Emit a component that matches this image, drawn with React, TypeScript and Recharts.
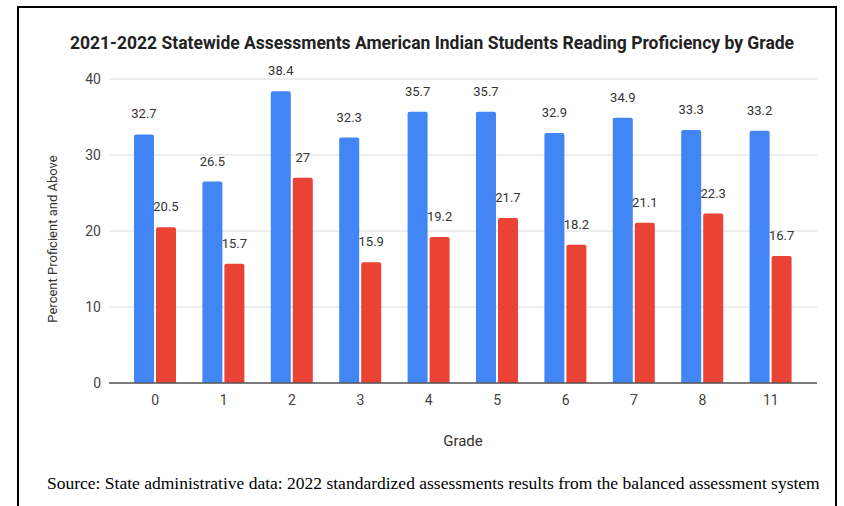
import { BarChart, Bar, XAxis, YAxis, CartesianGrid, LabelList, Label } from 'recharts';

const grades = ['0', '1', '2', '3', '4', '5', '6', '7', '8', '11'];
const blueValues = [32.7, 26.5, 38.4, 32.3, 35.7, 35.7, 32.9, 34.9, 33.3, 33.2];
const redValues = [20.5, 15.7, 27, 15.9, 19.2, 21.7, 18.2, 21.1, 22.3, 16.7];
const yTicks = [0, 10, 20, 30, 40];

const TITLE = '2021-2022 Statewide Assessments American Indian Students Reading Proficiency by Grade';
const SOURCE =
  'Source: State administrative data: 2022 standardized assessments results from the balanced assessment system';

const FONT = 'Roboto, Arial, sans-serif';

export default function App() {
  const data = grades.map((g, i) => ({
    grade: g,
    blue: blueValues[i],
    red: redValues[i],
  }));

  return (
    <div style={{ position: 'absolute', left: 0, top: 0, width: 844, height: 506, overflow: 'hidden', background: '#fff' }}>
      <div
        style={{
          position: 'absolute',
          left: 17,
          top: 6,
          width: 820,
          height: 600,
          border: '2px solid #000',
          boxSizing: 'border-box',
        }}
      />
      <div
        style={{
          position: 'absolute',
          left: 0,
          width: 864,
          top: 33,
          textAlign: 'center',
          fontFamily: FONT,
          fontWeight: 700,
          fontSize: 17.5,
          color: '#222',
          whiteSpace: 'nowrap',
        }}
      >
        {TITLE}
      </div>
      <div style={{ position: 'absolute', left: 0, top: 0 }}>
        <BarChart
          width={844}
          height={460}
          data={data}
          margin={{ top: 79, right: 27, bottom: 0, left: 40 }}
          barCategoryGap="19%"
          barGap={2}
        >
          <CartesianGrid vertical={false} stroke="#dcdcdc" />
          <XAxis
            dataKey="grade"
            height={77}
            padding={{ left: 12, right: 12 }}
            tickLine={false}
            axisLine={{ stroke: '#555', strokeWidth: 1.5 }}
            tickMargin={6}
            tick={{ fontSize: 14, fill: '#444', fontFamily: FONT }}
          >
            <Label
              value="Grade"
              position="insideBottom"
              offset={14}
              style={{ fontSize: 15, fill: '#333', fontFamily: FONT }}
            />
          </XAxis>
          <YAxis
            width={69}
            domain={[0, 40]}
            ticks={yTicks}
            tickLine={false}
            axisLine={false}
            tick={{ fontSize: 14, fill: '#444', fontFamily: FONT }}
          >
            <Label
              content={() => (
                <text
                  transform="translate(57, 239) rotate(-90)"
                  textAnchor="middle"
                  style={{ fontSize: 13, fill: '#333', fontFamily: FONT }}
                >
                  Percent Proficient and Above
                </text>
              )}
            />
          </YAxis>
          <Bar dataKey="blue" fill="#4285F4" radius={[2, 2, 0, 0]} isAnimationActive={false}>
            <LabelList dataKey="blue" position="top" offset={16} style={{ fontSize: 13, fill: '#333', fontFamily: FONT }} />
          </Bar>
          <Bar dataKey="red" fill="#EA4335" radius={[2, 2, 0, 0]} isAnimationActive={false}>
            <LabelList dataKey="red" position="top" offset={16} style={{ fontSize: 13, fill: '#333', fontFamily: FONT }} />
          </Bar>
        </BarChart>
      </div>
      <div
        style={{
          position: 'absolute',
          left: 47,
          top: 473,
          fontFamily: '"Liberation Serif", "Times New Roman", serif',
          fontSize: 17.5,
          color: '#000',
          whiteSpace: 'nowrap',
        }}
      >
        {SOURCE}
      </div>
    </div>
  );
}
